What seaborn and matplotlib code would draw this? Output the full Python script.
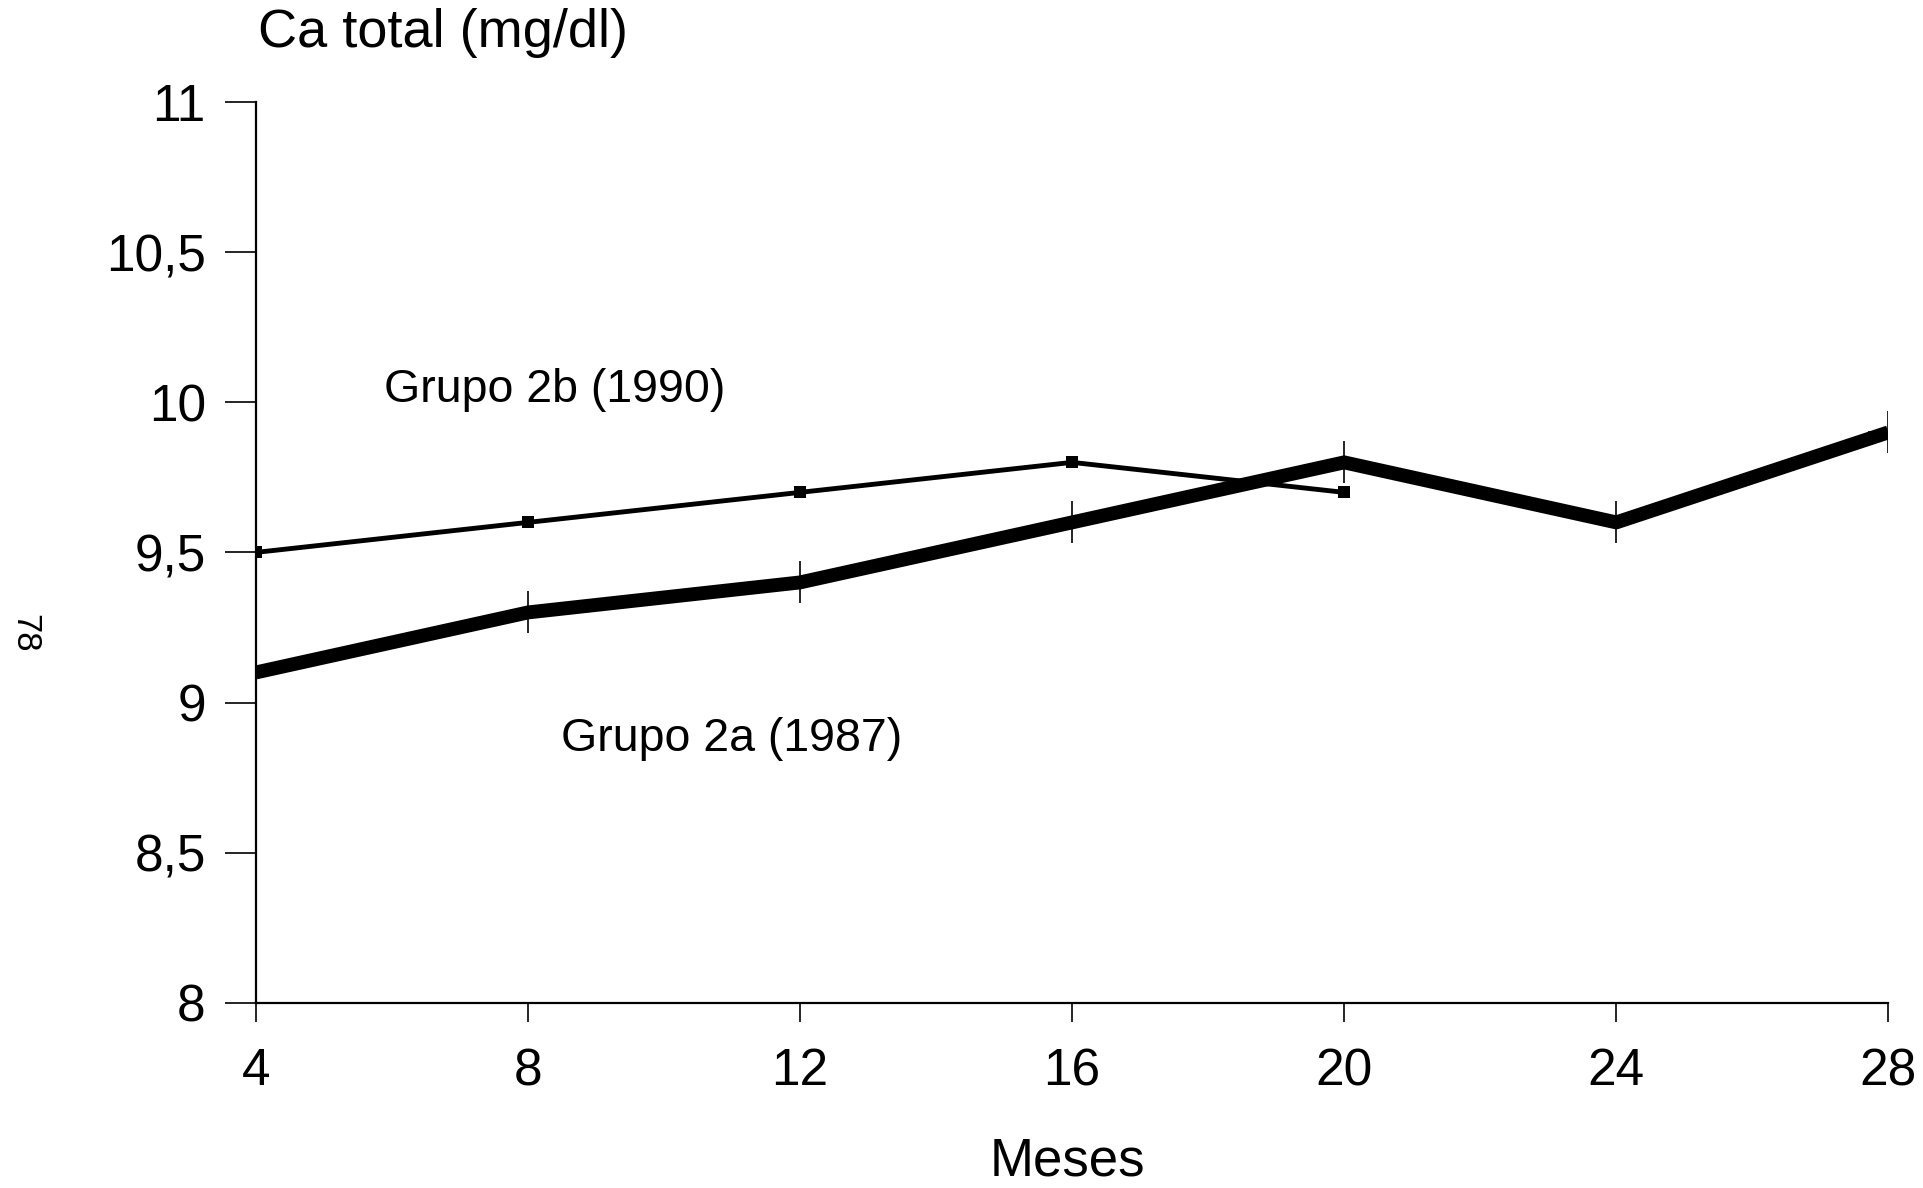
import matplotlib
matplotlib.use("Agg")
import matplotlib.pyplot as plt
import seaborn as sns
import pandas as pd
from matplotlib.ticker import FixedLocator, FixedFormatter

# Total calcium by month of follow-up
months_2a = [4, 8, 12, 16, 20, 24, 28]
ca_2a = [9.1, 9.3, 9.4, 9.6, 9.8, 9.6, 9.9]
err_2a = [0.07, 0.07, 0.07, 0.07, 0.07, 0.07, 0.07]

months_2b = [4, 8, 12, 16, 20]
ca_2b = [9.5, 9.6, 9.7, 9.8, 9.7]

x_ticks = [4, 8, 12, 16, 20, 24, 28]
y_ticks = [8, 8.5, 9, 9.5, 10, 10.5, 11]
y_tick_labels = ["8", "8,5", "9", "9,5", "10", "10,5", "11"]

label_2a = "Grupo 2a (1987)"
label_2b = "Grupo 2b (1990)"

sns.set_theme(style="ticks")
plt.rcParams["font.family"] = ["Liberation Sans", "DejaVu Sans"]

df_2a = pd.DataFrame({"Meses": months_2a, "Ca": ca_2a})
df_2b = pd.DataFrame({"Meses": months_2b, "Ca": ca_2b})

fig = plt.figure(figsize=(19.23, 11.88), dpi=100)
ax = fig.add_axes([0.133, 0.156, 0.849, 0.758])

# error bars of group 2a (drawn beneath the thick line)
ax.errorbar(months_2a, ca_2a, yerr=err_2a, xerr=0.3, fmt="none",
            ecolor="black", elinewidth=1.2, capsize=0, zorder=2)

sns.lineplot(data=df_2a, x="Meses", y="Ca", ax=ax, color="black",
             linewidth=10, zorder=3, solid_capstyle="butt")
sns.lineplot(data=df_2b, x="Meses", y="Ca", ax=ax, color="black",
             linewidth=3.5, marker="s", markersize=8, markeredgewidth=0,
             zorder=4)

ax.set_xlim(4, 28)
ax.set_ylim(8, 11)
ax.xaxis.set_major_locator(FixedLocator(x_ticks))
ax.set_xticklabels([str(v) for v in x_ticks])
ax.yaxis.set_major_locator(FixedLocator(y_ticks))
ax.yaxis.set_major_formatter(FixedFormatter(y_tick_labels))

for side in ("top", "right"):
    ax.spines[side].set_visible(False)
for side in ("left", "bottom"):
    ax.spines[side].set_linewidth(1.6)
    ax.spines[side].set_color("black")

ax.tick_params(axis="y", direction="out", length=22, width=1.2,
               labelsize=37, pad=14, colors="black")
ax.tick_params(axis="x", direction="out", length=14, width=1.2,
               labelsize=37, pad=18, colors="black")
ax.set_xlabel("")
ax.set_ylabel("")

fig.text(0.134, 0.972, "Ca total (mg/dl)", fontsize=39, ha="left",
         va="center", color="black")
fig.text(0.555, 0.022, "Meses", fontsize=38, ha="center", va="center",
         color="black")

ax.text(5.88, 10.04, label_2b, fontsize=33.5, ha="left", va="center",
        color="black")
ax.text(8.48, 8.88, label_2a, fontsize=33.5, ha="left", va="center",
        color="black")

fig.text(0.013, 0.467, "78", fontsize=25, rotation=-90, ha="center",
         va="center", color="black")

fig.savefig("out.png", dpi=100, facecolor="white")
